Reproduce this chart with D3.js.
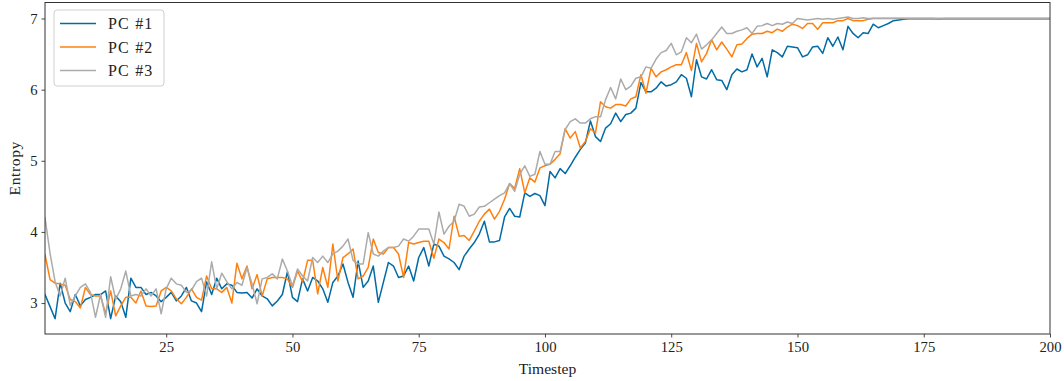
<!DOCTYPE html>
<html>
<head>
<meta charset="utf-8">
<script src="https://cdn.jsdelivr.net/npm/d3@7"></script>
<style>
  html, body { margin: 0; padding: 0; background: #fff; }
  svg { display: block; }
  text { font-family: "Liberation Serif", "Times New Roman", serif; fill: #222; }
</style>
</head>
<body>
<svg id="chart" width="1064" height="381"></svg>
<script>
// Entropy of the first three principal components per timestep (t = 1..200)
const pc1 = [
  3.12, 2.95, 2.78, 3.28, 3.00, 2.88, 3.12, 2.96, 3.05, 3.08,
  3.12, 3.12, 3.17, 2.78, 3.10, 3.02, 2.80, 3.35, 3.22, 3.22,
  3.12, 3.15, 3.10, 3.02, 3.08, 3.15, 3.03, 3.10, 3.22, 3.03,
  3.00, 2.88, 3.30, 3.12, 3.35, 3.20, 3.27, 3.25, 3.15, 3.14,
  3.15, 3.07, 3.20, 3.10, 3.06, 2.96, 3.03, 3.12, 3.44, 3.08,
  3.02, 3.34, 3.17, 3.36, 3.31, 3.20, 3.01, 3.29, 3.38, 3.55,
  3.29, 3.08, 3.59, 3.22, 3.31, 3.52, 3.01, 3.29, 3.57, 3.52,
  3.36, 3.38, 3.52, 3.31, 3.64, 3.78, 3.52, 3.83, 3.80, 3.66,
  3.62, 3.57, 3.47, 3.66, 3.76, 3.85, 3.97, 4.15, 3.86, 3.86,
  3.88, 4.21, 4.33, 4.22, 4.21, 4.55, 4.50, 4.54, 4.51, 4.37,
  4.85, 4.76, 4.89, 4.82, 4.93, 5.05, 5.16, 5.25, 5.56, 5.34,
  5.27, 5.46, 5.52, 5.67, 5.55, 5.65, 5.67, 5.74, 6.10, 5.97,
  5.97, 6.02, 6.11, 6.05, 6.07, 6.11, 6.21, 6.16, 5.90, 6.42,
  6.18, 6.15, 6.28, 6.14, 6.13, 6.00, 6.21, 6.29, 6.25, 6.28,
  6.50, 6.32, 6.44, 6.18, 6.56, 6.52, 6.46, 6.61, 6.60, 6.59,
  6.46, 6.49, 6.60, 6.61, 6.51, 6.73, 6.61, 6.74, 6.56, 6.89,
  6.79, 6.73, 6.80, 6.79, 6.92, 6.87, 6.90, 6.93, 6.97, 6.98,
  6.99, 6.995, 6.995, 6.995, 6.995, 6.995, 6.995, 6.995, 6.995, 6.995,
  6.995, 6.995, 6.995, 6.995, 6.995, 6.995, 6.995, 6.995, 6.995, 6.995,
  6.995, 6.995, 6.995, 6.995, 6.995, 6.995, 6.995, 6.995, 6.995, 6.995
];
const pc2 = [
  3.68, 3.33, 3.28, 3.27, 3.25, 3.05, 3.02, 2.93, 3.22, 3.12,
  3.10, 3.10, 2.85, 3.17, 2.82, 2.96, 3.08, 3.08, 3.00, 3.17,
  2.96, 2.95, 2.96, 3.17, 3.22, 3.17, 3.06, 2.99, 3.08, 3.20,
  3.08, 3.04, 3.38, 3.20, 3.20, 3.15, 3.22, 3.00, 3.56, 3.34,
  3.52, 3.20, 3.40, 3.10, 3.34, 3.36, 3.36, 3.36, 3.34, 3.22,
  3.45, 3.30, 3.60, 3.60, 3.13, 3.50, 3.22, 3.83, 3.31, 3.64,
  3.69, 3.76, 3.34, 3.38, 3.50, 3.90, 3.71, 3.69, 3.78, 3.78,
  3.69, 3.36, 3.85, 3.83, 3.85, 3.87, 3.87, 3.63, 3.90, 3.85,
  3.76, 4.22, 3.94, 3.95, 3.88, 4.01, 4.15, 4.25, 4.32, 4.18,
  4.29, 4.46, 4.68, 4.61, 4.89, 4.55, 4.76, 4.70, 4.90, 4.93,
  4.95, 5.02, 5.10, 5.45, 5.32, 5.41, 5.18, 5.27, 5.45, 5.39,
  5.83, 5.76, 5.74, 5.79, 5.79, 5.77, 5.87, 5.90, 6.21, 5.95,
  6.30, 6.18, 6.25, 6.28, 6.32, 6.35, 6.35, 6.52, 6.27, 6.65,
  6.39, 6.51, 6.70, 6.56, 6.67, 6.57, 6.46, 6.63, 6.64, 6.72,
  6.78, 6.79, 6.79, 6.82, 6.80, 6.85, 6.82, 6.88, 6.92, 6.90,
  6.86, 6.93, 6.93, 6.85, 6.94, 6.94, 6.94, 6.97, 6.97, 7.00,
  6.97, 6.97, 6.97, 6.99, 7.00, 7.00, 7.00, 7.00, 7.00, 7.00,
  7.00, 7.00, 7.00, 7.00, 7.00, 7.00, 7.00, 6.99, 7.00, 7.00,
  7.00, 7.00, 7.00, 7.00, 7.00, 7.00, 7.00, 7.00, 7.00, 7.00,
  7.00, 7.00, 7.00, 7.00, 7.00, 7.00, 7.00, 7.00, 7.00, 7.00
];
const pc3 = [
  4.20, 3.70, 3.30, 3.10, 3.35, 2.97, 3.10, 3.22, 3.27, 3.15,
  2.80, 3.12, 2.80, 3.37, 3.05, 3.20, 3.45, 3.10, 3.12, 3.10,
  3.20, 3.10, 3.20, 2.85, 3.20, 3.35, 3.27, 3.25, 3.15, 3.18,
  3.30, 3.35, 3.10, 3.58, 3.20, 3.42, 3.30, 3.20, 3.29, 3.25,
  3.50, 3.27, 2.99, 3.34, 3.36, 3.41, 3.34, 3.62, 3.45, 3.24,
  3.48, 3.38, 3.31, 3.64, 3.57, 3.66, 3.57, 3.69, 3.73, 3.80,
  3.90, 3.60, 3.55, 3.55, 3.99, 3.69, 3.66, 3.73, 3.78, 3.78,
  3.80, 3.90, 3.87, 3.94, 4.04, 4.04, 4.04, 3.83, 4.28, 3.97,
  4.08, 4.15, 4.39, 4.36, 4.22, 4.25, 4.35, 4.36, 4.41, 4.46,
  4.51, 4.55, 4.68, 4.57, 4.81, 4.93, 4.78, 4.81, 5.13, 4.95,
  4.95, 5.13, 5.13, 5.44, 5.55, 5.59, 5.53, 5.53, 5.59, 5.62,
  5.62, 5.86, 6.03, 5.87, 6.15, 6.00, 6.05, 6.16, 6.18, 6.32,
  6.30, 6.43, 6.52, 6.55, 6.65, 6.49, 6.53, 6.73, 6.66, 6.78,
  6.57, 6.63, 6.70, 6.79, 6.88, 6.79, 6.79, 6.82, 6.84, 6.87,
  6.79, 6.89, 6.90, 6.93, 6.90, 6.93, 6.92, 6.95, 6.93, 7.00,
  6.99, 6.98, 6.99, 7.00, 6.99, 7.00, 6.99, 7.00, 7.01, 7.02,
  7.00, 7.00, 7.01, 7.00, 7.005, 7.005, 7.005, 7.005, 7.005, 7.005,
  7.005, 7.005, 7.005, 7.005, 7.005, 7.005, 7.005, 7.005, 7.005, 7.005,
  7.005, 7.005, 7.005, 7.005, 7.005, 7.005, 7.005, 7.005, 7.005, 7.005,
  7.005, 7.005, 7.005, 7.005, 7.005, 7.005, 7.005, 7.005, 7.005, 7.005
];
const seriesNames = ["PC #1", "PC #2", "PC #3"];
const seriesColors = ["#006BA4", "#FF800E", "#ABABAB"];
const xTicks = [25, 50, 75, 100, 125, 150, 175, 200];
const yTicks = [3, 4, 5, 6, 7];
const xLabel = "Timestep";
const yLabel = "Entropy";

const svg = d3.select("#chart");
const plot = { left: 45, right: 1050, top: 2.5, bottom: 334 };

const x = d3.scaleLinear().domain([1, 200]).range([plot.left, plot.right]);
const y = d3.scaleLinear().domain([2.565, 7.225]).range([plot.bottom, plot.top]);

const series = [pc1, pc2, pc3].map((vals, i) => ({
  name: seriesNames[i],
  color: seriesColors[i],
  points: vals.map((v, j) => ({ t: j + 1, v }))
}));

// data lines, clipped to the axes box
svg.append("clipPath").attr("id", "plotClip")
  .append("rect")
  .attr("x", plot.left).attr("y", plot.top)
  .attr("width", plot.right - plot.left).attr("height", plot.bottom - plot.top);

const line = d3.line().x(d => x(d.t)).y(d => y(d.v));
svg.append("g").attr("clip-path", "url(#plotClip)")
  .selectAll("path").data(series).join("path")
  .attr("d", d => line(d.points))
  .attr("fill", "none")
  .attr("stroke", d => d.color)
  .attr("stroke-width", 1.5)
  .attr("stroke-linejoin", "round")
  .attr("stroke-linecap", "square");

// axes
const xAxis = svg.append("g")
  .attr("transform", `translate(0,${plot.bottom})`)
  .call(d3.axisBottom(x).tickValues(xTicks).tickSize(3.5).tickPadding(4).tickFormat(d3.format("d")));
const yAxis = svg.append("g")
  .attr("transform", `translate(${plot.left},0)`)
  .call(d3.axisLeft(y).tickValues(yTicks).tickSize(3.5).tickPadding(4).tickFormat(d3.format("d")));

[xAxis, yAxis].forEach(g => {
  g.select(".domain").remove();
  g.selectAll(".tick line").attr("stroke", "#333").attr("stroke-width", 0.9);
  g.selectAll(".tick text")
    .attr("font-family", "'Liberation Serif', serif")
    .attr("font-size", 14.7)
    .attr("fill", "#222");
});

// frame
svg.append("rect")
  .attr("x", plot.left).attr("y", plot.top)
  .attr("width", plot.right - plot.left).attr("height", plot.bottom - plot.top)
  .attr("fill", "none").attr("stroke", "#333").attr("stroke-width", 1);

// axis titles
svg.append("text")
  .attr("x", (plot.left + plot.right) / 2).attr("y", 374)
  .attr("text-anchor", "middle").attr("font-size", 15.6)
  .text(xLabel);
svg.append("text")
  .attr("transform", `translate(20,${(plot.top + plot.bottom) / 2}) rotate(-90)`)
  .attr("text-anchor", "middle").attr("font-size", 15.6)
  .attr("letter-spacing", 0.6)
  .text(yLabel);

// legend
const legend = svg.append("g").attr("transform", "translate(54,10)");
legend.append("rect")
  .attr("width", 110).attr("height", 76).attr("rx", 3)
  .attr("fill", "#fff").attr("fill-opacity", 0.8)
  .attr("stroke", "#d0d0d0").attr("stroke-width", 1);
const items = legend.selectAll("g.item").data(series).join("g")
  .attr("class", "item")
  .attr("transform", (d, i) => `translate(0,${13.5 + i * 23.5})`);
items.append("line")
  .attr("x1", 6).attr("x2", 42)
  .attr("stroke", d => d.color).attr("stroke-width", 1.5);
items.append("text")
  .attr("x", 54).attr("y", 5.5)
  .attr("font-size", 16)
  .attr("letter-spacing", 1.2)
  .text(d => d.name);
</script>
</body>
</html>
